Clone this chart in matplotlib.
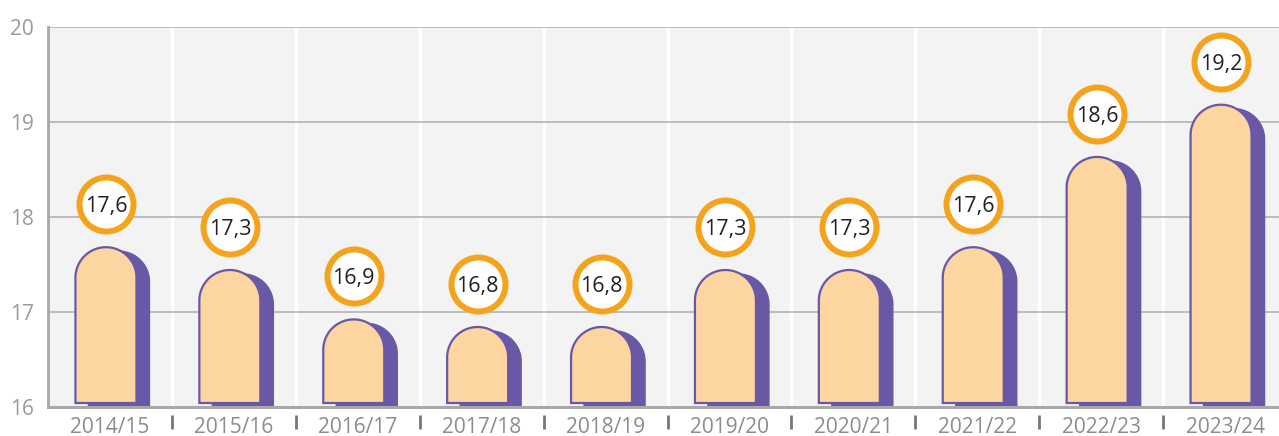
import matplotlib.pyplot as plt
import numpy as np
from matplotlib.path import Path
from matplotlib.patches import PathPatch
from matplotlib.transforms import offset_copy

# Data
seasons = ["2014/15", "2015/16", "2016/17", "2017/18", "2018/19",
           "2019/20", "2020/21", "2021/22", "2022/23", "2023/24"]
values = [17.6, 17.3, 16.9, 16.8, 16.8, 17.3, 17.3, 17.6, 18.6, 19.2]
# bar tops as drawn in the picture
heights = [17.64, 17.40, 16.88, 16.80, 16.80, 17.40, 17.40, 17.64, 18.59, 19.14]
yticks = [16, 17, 18, 19, 20]

plt.rcParams['font.family'] = ['Open Sans', 'DejaVu Sans']

bar_fill = "#fdd5a0"
purple = "#6858a6"
orange = "#f5a31c"

W, H = 1279, 436
fig = plt.figure(figsize=(W / 100, H / 100), dpi=100)
ax = fig.add_axes([48 / W, (H - 407) / H, 1239 / W, 380 / H])
ax.set_xlim(-0.5, 9.5)
ax.set_ylim(16, 20)
ax.set_facecolor("#f3f3f3")

# pixel scale of the data units, to make round bar tops
px_x = 1239 / 10
px_y = 380 / 4
half_w = 30.5 / px_x
ry = 30.5 / px_y

front_tr = offset_copy(ax.transData, fig, x=-4, y=4, units='dots')
shadow_tr = offset_copy(ax.transData, fig, x=9, y=0, units='dots')
label_tr = offset_copy(ax.transData, fig, x=-4, y=47, units='dots')

def bar_path(cx, top, base=16):
    t = np.linspace(np.pi, 0, 60)
    xs = np.concatenate([[cx - half_w], cx + half_w * np.cos(t), [cx + half_w, cx - half_w]])
    ys = np.concatenate([[base], top - ry + ry * np.sin(t), [base, base]])
    return Path(np.column_stack([xs, ys]), closed=True)

for i, h in enumerate(heights):
    p = bar_path(i, h)
    ax.add_patch(PathPatch(p, facecolor=purple, edgecolor=purple, lw=1, transform=shadow_tr, zorder=2))
    ax.add_patch(PathPatch(p, facecolor=bar_fill, edgecolor=purple, lw=1.6, transform=front_tr, zorder=3))

x = np.arange(len(seasons))
ax.plot(x, heights, 'o', ms=38.9, mfc='white', mec=orange, mew=4.3,
        transform=label_tr, zorder=4, clip_on=False)
for i, (h, v) in enumerate(zip(heights, values)):
    ax.text(i, h, f"{v:.1f}".replace(".", ","), transform=label_tr,
            ha='center', va='center_baseline', fontsize=15.5, color="#222222", zorder=5)

# axes styling
ax.set_axisbelow(True)
ax.set_yticks(yticks)
ax.set_xticks(x)
ax.set_xticklabels(seasons)
ax.set_xticks(np.arange(0.5, 9.5, 1), minor=True)
ax.grid(which='major', axis='y', color='#b3b3b3', lw=1.2)
ax.grid(which='minor', axis='x', color='white', lw=2.5)
ax.tick_params(axis='x', which='major', length=0, pad=1, labelsize=15, labelcolor='#8c8c8c')
ax.tick_params(axis='x', which='minor', length=10, width=2, color='#777777')
ax.tick_params(axis='y', length=0, pad=10, labelsize=15, labelcolor='#9a9a9a')
for lab in ax.get_yticklabels():
    lab.set_transform(lab.get_transform() + offset_copy(ax.transAxes, fig, y=5, units='dots') - ax.transAxes)

for s in ['top', 'right']:
    ax.spines[s].set_visible(False)
ax.spines['left'].set_color('#a8a8a8')
ax.spines['left'].set_linewidth(2)
ax.spines['bottom'].set_position(('outward', 6))
ax.spines['bottom'].set_visible(False)
ax.axhline(16, color='#a8a8a8', lw=2.2, clip_on=False, zorder=6)

fig.savefig("out.png", dpi=100)
